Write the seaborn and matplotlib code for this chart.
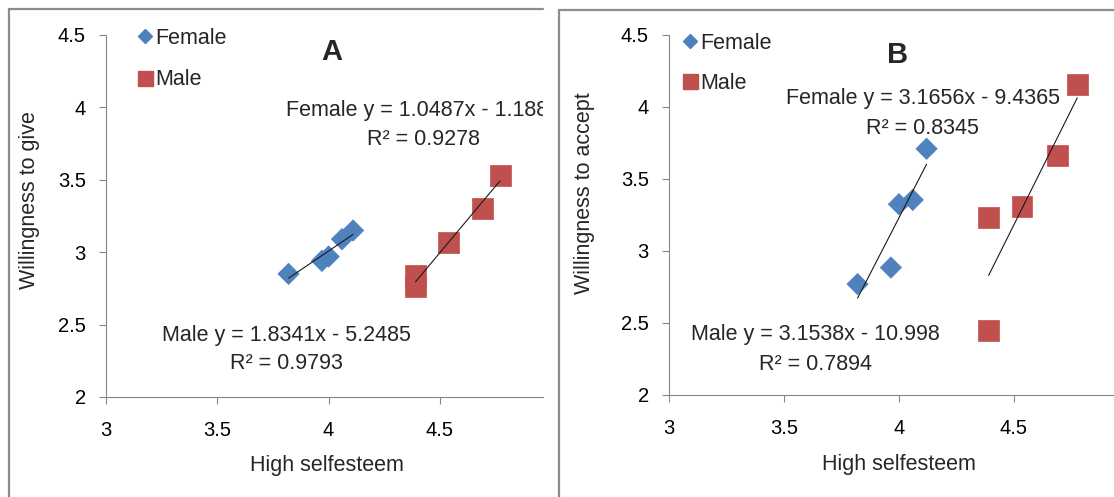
import numpy as np
import pandas as pd
import seaborn as sns
import matplotlib.pyplot as plt
from matplotlib.lines import Line2D

# values
a_female_x = [3.82, 3.97, 4.00, 4.06, 4.11]
a_female_y = [2.85, 2.94, 2.97, 3.09, 3.15]
a_male_x = [4.39, 4.39, 4.54, 4.69, 4.77]
a_male_y = [2.84, 2.76, 3.07, 3.30, 3.53]

b_female_x = [3.82, 3.965, 4.00, 4.06, 4.12]
b_female_y = [2.77, 2.885, 3.325, 3.355, 3.71]
b_male_x = [4.39, 4.39, 4.535, 4.69, 4.775]
b_male_y = [3.23, 2.45, 3.31, 3.665, 4.155]

x_ticks = [3, 3.5, 4, 4.5]
x_tick_labels = ["3", "3.5", "4", "4.5"]
y_ticks = [2, 2.5, 3, 3.5, 4, 4.5]
y_tick_labels = ["2", "2.5", "3", "3.5", "4", "4.5"]

eq_a = ["Female y = 1.0487x - 1.1888", "R\u00b2 = 0.9278", "Male y = 1.8341x - 5.2485", "R\u00b2 = 0.9793"]
eq_b = ["Female y = 3.1656x - 9.4365", "R\u00b2 = 0.8345", "Male y = 3.1538x - 10.998", "R\u00b2 = 0.7894"]

blue = "#4F81BD"
red = "#C0504D"
grey = "#868686"

sns.set_style("white")
plt.rcParams['font.family'] = ['Liberation Sans', 'DejaVu Sans']

W, H = 1114, 497
fig = plt.figure(figsize=(W / 100, H / 100), dpi=100)


def px_box(left, top, right, bottom):
    return [left / W, 1 - bottom / H, (right - left) / W, (bottom - top) / H]


def make_df(fx, fy, mx, my):
    return pd.DataFrame({
        "selfesteem": fx + mx,
        "willingness": fy + my,
        "sex": ["Female"] * len(fx) + ["Male"] * len(mx),
    })


dfA = make_df(a_female_x, a_female_y, a_male_x, a_male_y)
dfB = make_df(b_female_x, b_female_y, b_male_x, b_male_y)

axA = fig.add_axes(px_box(106, 35, 543, 397))
axB = fig.add_axes(px_box(669, 35, 1114, 395))

panels = [
    (axA, dfA, "Willingness to give", 4.963, "A", eq_a,
     (4.424, 3.982, 3.775), (3.809, 2.428, 2.228), (4.015, 4.383),
     (0.506, -0.188), (-0.176, 0.544), (137, 28), 0.95),
    (axB, dfB, "Willingness to accept", 4.935, "B", eq_b,
     (4.104, 4.056, 3.854), (3.635, 2.417, 2.215), (3.996, 4.361),
     (0.517, -0.192), (-0.189, 0.561), (682, 33), 0.88),
]

for ax, df, ylab, xmax, letter, eqs, fpos, mpos, lpos, xl, yl, legpos, lspace in panels:
    sns.scatterplot(data=df, x="selfesteem", y="willingness", hue="sex", style="sex",
                    size="sex", sizes={"Female": 118, "Male": 228},
                    markers={"Female": "D", "Male": "s"},
                    palette={"Female": blue, "Male": red},
                    linewidth=0.5, edgecolor=None, legend=False, ax=ax, zorder=2)
    for sex in ["Female", "Male"]:
        sns.regplot(data=df[df.sex == sex], x="selfesteem", y="willingness",
                    scatter=False, ci=None, truncate=True, ax=ax,
                    line_kws=dict(color="#1a1a1a", lw=0.8, zorder=3))

    ax.set_xlim(3, xmax)
    ax.set_ylim(2, 4.5)
    ax.set_xticks(x_ticks)
    ax.set_xticklabels(x_tick_labels)
    ax.set_yticks(y_ticks)
    ax.set_yticklabels(y_tick_labels)
    ax.tick_params(axis="both", direction="out", length=5, width=0.8, color=grey,
                   labelsize=14.5, pad=9.5, labelcolor="black")
    ax.tick_params(axis="x", bottom=True, pad=12)
    ax.tick_params(axis="y", left=True)
    sns.despine(ax=ax)
    for s in ["left", "bottom"]:
        ax.spines[s].set_color(grey)
        ax.spines[s].set_linewidth(0.8)

    ax.set_xlabel("High selfesteem", fontsize=15.5)
    ax.set_ylabel(ylab, fontsize=15.5)
    ax.xaxis.label.set_va("center")
    ax.yaxis.label.set_va("center")
    ax.xaxis.set_label_coords(*xl)
    ax.yaxis.set_label_coords(*yl)

    ax.text(fpos[0], fpos[1], eqs[0], ha="center", va="center", fontsize=15.5, clip_on=True)
    ax.text(fpos[0], fpos[2], eqs[1], ha="center", va="center", fontsize=15.5, clip_on=True)
    ax.text(mpos[0], mpos[1], eqs[2], ha="center", va="center", fontsize=15.5)
    ax.text(mpos[0], mpos[2], eqs[3], ha="center", va="center", fontsize=15.5)
    ax.text(lpos[0], lpos[1], letter, ha="center", va="center", fontsize=21, fontweight="bold")

    handles = [
        Line2D([], [], marker="D", ls="none", color=blue, markersize=7.2, label="Female"),
        Line2D([], [], marker="s", ls="none", color=red, markersize=10.8, label="Male"),
    ]
    ax.legend(handles=handles, loc="upper left",
              bbox_to_anchor=(legpos[0] / W, 1 - legpos[1] / H),
              bbox_transform=fig.transFigure, frameon=False, fontsize=15.5,
              handlelength=0.7, handletextpad=0.15, labelspacing=lspace,
              borderpad=0, borderaxespad=0)

# outer frames of the two pasted panels
frame = dict(transform=fig.transFigure, color="#8c8c8c", lw=1.6)
fig.add_artist(Line2D([9 / W, 9 / W], [1 - 9 / H, 0], **frame))
fig.add_artist(Line2D([9 / W, 543 / W], [1 - 9 / H, 1 - 9 / H], **frame))
fig.add_artist(Line2D([559 / W, 559 / W], [1 - 10 / H, 0], **frame))
fig.add_artist(Line2D([559 / W, 1 / 1], [1 - 10 / H, 1 - 10 / H], **frame))

fig.savefig("out.png", dpi=100)
